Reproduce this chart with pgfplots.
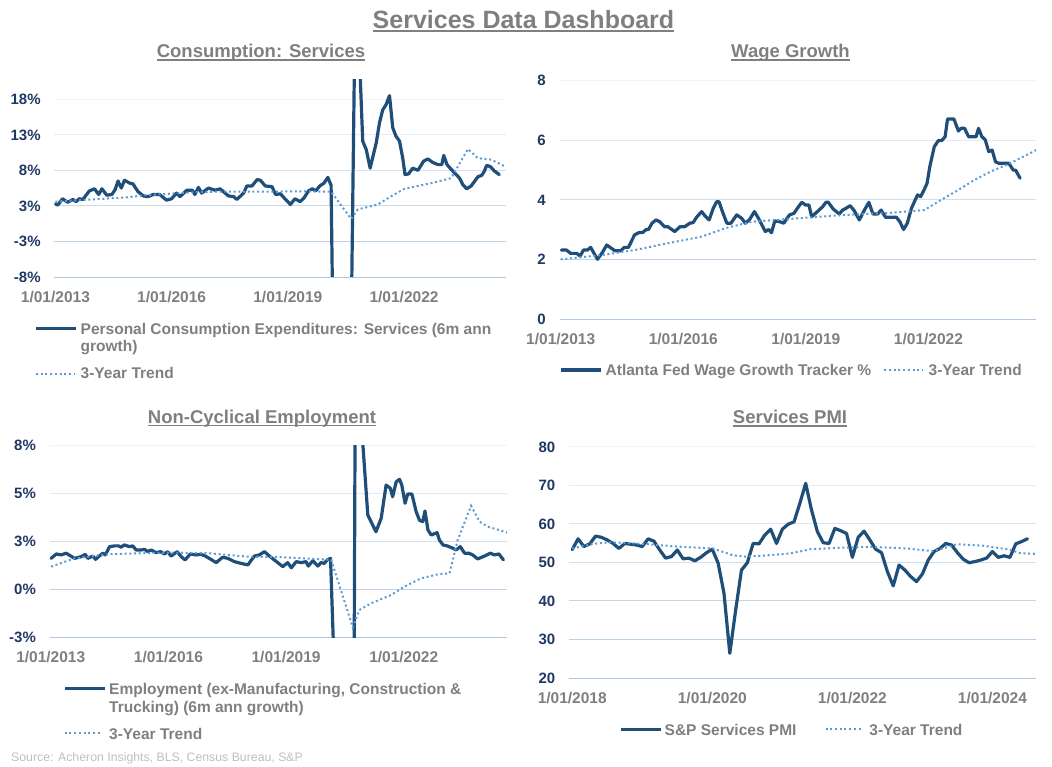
\documentclass[border=0pt]{standalone}
\usepackage{fontspec}
\setmainfont{Liberation Sans}
\usepackage{pgfplots}
\pgfplotsset{compat=1.18}
\definecolor{navy}{RGB}{31,78,121}
\definecolor{tblue}{RGB}{91,155,213}
\definecolor{tgray}{RGB}{127,127,127}
\definecolor{ylab}{RGB}{31,56,100}
\definecolor{gT}{RGB}{240,244,250}
\definecolor{gB}{RGB}{176,199,226}
\definecolor{srcgray}{RGB}{191,191,191}
\newcommand{\gridl}[4]{\draw[line width=0.9pt,color=gB!#4!gT] (axis cs:#1,#3) -- (axis cs:#2,#3);}
\pgfplotsset{
  panel/.style={
    scale only axis, anchor=south west,
    axis line style={draw=none},
    major tick length=0pt,
    clip mode=individual,
    tick label style={inner sep=0pt},
    xticklabel style={font=\fontsize{15.5}{18}\selectfont\bfseries, text=tgray, anchor=base, yshift=-25.5pt},
    yticklabel style={font=\fontsize{15}{18}\selectfont\bfseries, text=ylab, anchor=base east, xshift=-13.5pt, yshift=-5.4pt},
  },
  mainline/.style={line width=3.2pt, color=navy, line join=round, line cap=round, mark=none},
  trendline/.style={line width=2pt, color=tblue, dash pattern=on 2pt off 2.7pt, mark=none},
}
\begin{document}
\begin{tikzpicture}
\path[use as bounding box] (0,0) rectangle (1052pt,766pt);

% ---------------- Panel 1: Consumption Services
\begin{axis}[panel, at={(54.3pt,489pt)}, width=451.9pt, height=197pt,
  xmin=-0.35, xmax=139.65, ymin=-7.5, ymax=20.2,
  xtick={0,36,72,108}, xticklabels={1/01/2013,1/01/2016,1/01/2019,1/01/2022},
  ytick={-7.5,-2.5,2.5,7.5,12.5,17.5}, yticklabels={-8\%,-3\%,3\%,8\%,13\%,18\%}]
\gridl{-0.35}{139.65}{17.5}{0}
\gridl{-0.35}{139.65}{12.5}{20}
\gridl{-0.35}{139.65}{7.5}{40}
\gridl{-0.35}{139.65}{2.5}{60}
\gridl{-0.35}{139.65}{-2.5}{80}
\gridl{-0.35}{139.65}{-7.5}{100}
\addplot[mainline] coordinates {
(0,2.8)(0.7,2.6)(2.2,3.5)(3.8,3.0)(5.4,3.4)(6.4,3.1)(7.4,3.5)(8.5,3.4)(10.5,4.6)(12.1,4.9)
(13.4,4.1)(14.4,4.9)(15.9,4.0)(17.5,4.1)(18.5,4.8)(19.4,6.0)(20.4,5.0)(21.4,6.1)(23,5.7)(24,5.6)
(25.6,4.5)(27.2,3.9)(28.7,3.8)(30.3,4.1)(32.3,4.1)(34.4,3.3)(36,3.5)(37.5,4.3)(38.6,3.8)(40.7,4.7)
(42.4,4.7)(43.2,4.1)(44.3,5.1)(45.3,4.3)(47.4,5.0)(49.5,4.7)(51,4.9)(53.6,3.9)(55.2,3.8)(56.2,3.4)
(58.3,4.3)(59.3,5.3)(60.9,5.3)(62.5,6.2)(63.5,6.1)(65,5.3)(67.1,5.2)(68.2,4.1)(69.7,4.2)(71.3,3.4)
(72.8,2.7)(74.2,3.5)(75.8,3.1)(77,3.6)(78.4,4.6)(79.6,4.9)(80.6,4.6)(81.9,5.3)(83.2,5.7)(84.4,6.5)
(85.4,5.4)(86.4,-30)(87.4,-60)(88.4,-50)(89.4,-35)(90.4,-20)(91.7,-12)(92.7,25)(93.5,35)(94.4,21)
(95.2,11.6)(96.3,10.4)(97.5,7.8)(99.4,11.4)(100.4,14.2)(101.4,16.0)(102.4,16.7)(103.5,18.0)(104.5,13.5)(105.5,12.3)
(106.6,11.6)(107.6,9.2)(108.3,6.9)(109.4,7.0)(110.7,7.8)(112.3,7.5)(114.1,8.8)(115.4,9.1)(116.9,8.6)(118.5,8.3)
(119.7,8.3)(120.3,9.6)(121.3,8.3)(123.1,7.4)(125.2,6.4)(126.2,5.5)(127.4,4.9)(128.8,5.3)(130.9,6.6)(132.1,6.8)
(132.9,7.4)(133.6,8.2)(134.8,8.0)(136.0,7.4)(137.5,6.9)};
\addplot[trendline] coordinates {
(0,3.1)(7,3.3)(15,3.5)(22,3.7)(28,4.0)(35,4.2)(42,4.4)(50,4.5)(58,4.5)(66,4.5)(76,4.55)(85.4,4.5)
(91.6,0.67)(93.7,2.0)(99.9,2.7)(104,3.85)(108.1,4.9)(116.4,5.7)(122.6,6.4)(127.8,10.5)(130.9,9.2)(135,9.0)(139.5,8.0)};
\end{axis}

% ---------------- Panel 2: Wage Growth
\begin{axis}[panel, at={(559.5pt,447pt)}, width=476.7pt, height=238.7pt,
  xmin=-0.35, xmax=139.65, ymin=0, ymax=8,
  xtick={0,36,72,108}, xticklabels={1/01/2013,1/01/2016,1/01/2019,1/01/2022},
  ytick={0,2,4,6,8}, yticklabels={0,2,4,6,8}]
\gridl{-0.35}{139.65}{8}{0}
\gridl{-0.35}{139.65}{6}{25}
\gridl{-0.35}{139.65}{4}{50}
\gridl{-0.35}{139.65}{2}{75}
\gridl{-0.35}{139.65}{0}{100}
\addplot[mainline] coordinates {
(0.2,2.31)(1.7,2.31)(2.9,2.2)(4.7,2.2)(5.7,2.11)(6.7,2.31)(7.8,2.31)(8.8,2.4)(10.8,2.0)(12.3,2.24)
(13.5,2.48)(15.9,2.29)(17.7,2.29)(18.7,2.4)(19.9,2.4)(21.7,2.82)(23.1,2.9)(24.1,2.9)(25.1,3.0)(25.8,3.0)
(26.8,3.21)(28.0,3.32)(29.1,3.26)(30.5,3.09)(31.5,3.09)(33.5,2.93)(35,3.09)(36.4,3.09)(37.9,3.21)(38.9,3.23)
(39.9,3.41)(41.4,3.6)(42.4,3.45)(43.6,3.32)(44.8,3.71)(45.8,3.93)(46.5,3.93)(47.5,3.6)(48.8,3.21)(50,3.21)
(51.7,3.49)(53.2,3.37)(54.2,3.21)(55.4,3.32)(56.9,3.6)(58.1,3.37)(60.1,2.93)(61.1,3.0)(61.9,2.89)(62.9,3.29)
(64.3,3.26)(65.5,3.21)(67.2,3.49)(68.5,3.54)(69.5,3.71)(70.8,3.91)(71.9,3.82)(72.9,3.82)(73.7,3.43)(75.4,3.6)
(76.9,3.76)(77.9,3.91)(78.6,3.91)(80,3.69)(81.8,3.52)(82.8,3.65)(83.8,3.71)(85,3.8)(86.2,3.63)(87.7,3.32)
(89.2,3.65)(90.5,3.91)(91.7,3.52)(93.1,3.52)(94.1,3.65)(95.4,3.41)(96.8,3.41)(98.6,3.41)(99.6,3.26)(100.7,3.0)
(101.8,3.21)(103,3.71)(104.8,4.16)(105.7,4.1)(106.7,4.32)(107.6,4.55)(108.4,5.1)(109.7,5.77)(110.9,5.98)(111.9,5.98)
(112.9,6.11)(113.6,6.7)(115.5,6.7)(116.8,6.3)(117.6,6.39)(118.6,6.39)(119.8,6.11)(121.2,6.11)(122,6.11)(122.7,6.39)
(123.7,6.11)(124.7,6.0)(125.7,5.61)(126.7,5.66)(127.7,5.27)(128.6,5.22)(131.6,5.22)(132.9,4.99)(133.6,4.99)(134.9,4.72)};
\addplot[trendline] coordinates {
(0,2.0)(11.9,2.14)(21.7,2.31)(31.5,2.54)(41.4,2.76)(48.3,3.04)(56,3.26)(65.8,3.34)(75,3.42)(82.4,3.48)
(97.1,3.56)(106.8,3.65)(111.7,3.99)(116.7,4.32)(121.5,4.66)(126.4,4.95)(131.3,5.18)(136.2,5.46)(139.65,5.66)};
\end{axis}

% ---------------- Panel 3: Non-Cyclical Employment
\begin{axis}[panel, at={(49.6pt,128.7pt)}, width=457.6pt, height=192pt,
  xmin=-0.35, xmax=139.65, ymin=-2.5, ymax=7.5,
  xtick={0,36,72,108}, xticklabels={1/01/2013,1/01/2016,1/01/2019,1/01/2022},
  ytick={-2.5,0,2.5,5,7.5}, yticklabels={-3\%,0\%,3\%,5\%,8\%}]
\gridl{-0.35}{139.65}{7.5}{0}
\gridl{-0.35}{139.65}{5}{25}
\gridl{-0.35}{139.65}{2.5}{50}
\gridl{-0.35}{139.65}{0}{75}
\gridl{-0.35}{139.65}{-2.5}{100}
\addplot[mainline] coordinates {
(0.1,1.61)(1.7,1.84)(3.2,1.79)(4.7,1.88)(7.3,1.61)(9.3,1.7)(10.6,1.82)(11.3,1.61)(12.9,1.73)(13.7,1.56)
(15.9,1.88)(16.7,1.79)(18,2.22)(19.5,2.26)(20.8,2.26)(21.5,2.19)(22.5,2.31)(24.1,2.22)(25.1,2.26)(26.1,2.05)
(27.7,2.05)(28.7,2.08)(29.7,1.96)(30.7,2.05)(32.2,1.91)(33.6,1.96)(34.8,1.84)(35.8,1.96)(36.8,1.73)(38.7,1.96)
(39.9,1.7)(41.1,1.53)(42.7,1.84)(44.5,1.79)(46,1.82)(47.3,1.73)(48.5,1.61)(50.6,1.39)(52.6,1.67)(54.2,1.61)
(56.2,1.44)(58.2,1.35)(60.3,1.27)(62.3,1.73)(63.8,1.79)(65.4,1.96)(66.9,1.73)(68.4,1.53)(71,1.18)(72.5,1.39)
(73.6,1.12)(75.1,1.44)(76.6,1.39)(78.1,1.44)(78.8,1.21)(80.2,1.49)(81.7,1.21)(82.7,1.39)(83.7,1.35)(84.6,1.53)
(85.6,1.61)(86.6,-3.5)(87.6,-40)(88.6,-30)(89.6,-20)(90.6,-15)(91.6,-10)(92.8,-5)(93.6,30)(94.4,10.2)
(97.0,3.87)(98.0,3.52)(99.5,3.0)(101.1,3.7)(102.6,5.43)(103.9,5.26)(104.6,4.82)(105.7,5.6)(106.7,5.73)(107.4,5.43)
(108.4,4.48)(109.2,4.96)(110.5,4.96)(111.8,4.04)(112.8,3.6)(113.8,3.52)(114.5,4.08)(115.4,3.09)(116.4,2.83)(118.2,2.95)
(118.9,2.57)(120,2.31)(121.3,2.26)(123,2.14)(124,2.05)(125.3,2.22)(126.6,1.88)(127.9,1.88)(129.1,1.79)(130.6,1.58)
(132.7,1.73)(134.5,1.88)(135.7,1.79)(137.1,1.84)(138.5,1.53)};
\addplot[trendline] coordinates {
(0.1,1.18)(7.3,1.61)(17.5,1.82)(27.7,1.88)(37.9,1.91)(48.1,1.88)(60.3,1.7)(70.5,1.67)(85.8,1.53)
(92.4,-1.98)(94.4,-1.08)(98,-0.73)(104.1,-0.3)(108.2,0.14)(113.3,0.57)(118.4,0.78)(122,0.83)(124.5,2.57)
(128.6,4.35)(131.2,3.52)(133.7,3.26)(138.8,3.0)(139.65,2.95)};
\end{axis}

% ---------------- Panel 4: Services PMI
\begin{axis}[panel, at={(568.9pt,88pt)}, width=467.3pt, height=231.3pt,
  xmin=-0.57, xmax=79.5, ymin=20, ymax=80,
  xtick={0,24,48,72}, xticklabels={1/01/2018,1/01/2020,1/01/2022,1/01/2024},
  ytick={20,30,40,50,60,70,80}, yticklabels={20,30,40,50,60,70,80}]
\gridl{-0.57}{79.5}{80}{0}
\gridl{-0.57}{79.5}{70}{17}
\gridl{-0.57}{79.5}{60}{33}
\gridl{-0.57}{79.5}{50}{50}
\gridl{-0.57}{79.5}{40}{67}
\gridl{-0.57}{79.5}{30}{83}
\gridl{-0.57}{79.5}{20}{100}
\addplot[mainline] coordinates {
(0,53.3)(1,56.1)(2,54.1)(3,54.8)(4,56.8)(5,56.5)(6,55.8)(7,54.9)(8,53.6)(9,54.9)(10,54.7)(11,54.5)
(12,54.1)(13,56.1)(14,55.5)(15,53.2)(16,51.1)(17,51.5)(18,53.2)(19,50.9)(20,51.1)(21,50.4)(22,51.3)(23,52.5)
(24,53.4)(25,49.8)(26,42.0)(27,26.4)(28,37.6)(29,48.0)(30,49.9)(31,54.9)(32,54.8)(33,57.1)(34,58.6)(35,54.9)
(36,58.6)(37,59.9)(38,60.5)(39,65.3)(40,70.5)(41,63.6)(42,58.0)(43,55.1)(44,54.9)(45,58.8)(46,58.2)(47,57.5)
(48,51.3)(49,56.5)(50,58.1)(51,55.8)(52,53.4)(53,52.5)(54,47.6)(55,43.9)(56,49.3)(57,48.0)(58,46.3)(59,45.0)
(60,47.0)(61,50.6)(62,52.8)(63,53.6)(64,54.9)(65,54.5)(66,52.5)(67,50.8)(68,49.9)(69,50.2)(70,50.6)(71,51.1)
(72,52.8)(73,51.3)(74,51.7)(75,51.3)(76,54.8)(77,55.4)(78,56.1)};
\addplot[trendline] coordinates {
(0,53.6)(3.6,54.8)(6.5,55.2)(12.2,54.8)(17.9,54.1)(24.1,53.6)(27.6,51.8)(29.6,51.5)(33.3,51.8)(37.3,52.3)
(40.8,53.4)(45.9,53.8)(51.6,54.0)(57.3,53.6)(61.9,52.9)(65.9,54.7)(70.5,54.3)(75,53.3)(76.7,52.4)(79.5,52.2)};
\end{axis}

% ---------------- Titles
\node[anchor=base, inner sep=0pt, font=\fontsize{25}{30}\selectfont\bfseries, text=tgray] (T) at (523.5pt,737.7pt) {Services Data Dashboard};
\draw[tgray, line width=1.7pt] ([yshift=-2.4pt]T.base west) -- ([yshift=-2.4pt]T.base east);
\node[anchor=base, inner sep=0pt, font=\fontsize{18.5}{22}\selectfont\bfseries, text=tgray] (T1) at (261pt,708pt) {Consumption: Services};
\draw[tgray, line width=1.3pt] ([yshift=-2pt]T1.base west) -- ([yshift=-2pt]T1.base east);
\node[anchor=base, inner sep=0pt, font=\fontsize{18.5}{22}\selectfont\bfseries, text=tgray] (T2) at (790.5pt,708pt) {Wage Growth};
\draw[tgray, line width=1.3pt] ([yshift=-2pt]T2.base west) -- ([yshift=-2pt]T2.base east);
\node[anchor=base, inner sep=0pt, font=\fontsize{18.5}{22}\selectfont\bfseries, text=tgray] (T3) at (262pt,342.7pt) {Non-Cyclical Employment};
\draw[tgray, line width=1.3pt] ([yshift=-2pt]T3.base west) -- ([yshift=-2pt]T3.base east);
\node[anchor=base, inner sep=0pt, font=\fontsize{18.5}{22}\selectfont\bfseries, text=tgray] (T4) at (790pt,342pt) {Services PMI};
\draw[tgray, line width=1.3pt] ([yshift=-2pt]T4.base west) -- ([yshift=-2pt]T4.base east);

% ---------------- Legends
\tikzset{legtxt/.style={anchor=base west, inner sep=0pt, font=\fontsize{15.5}{18}\selectfont\bfseries, text=tgray}}
% panel 1
\draw[navy, line width=3.2pt] (35.9pt,437.7pt) -- (75.5pt,437.7pt);
\node[legtxt] at (80.5pt,431.7pt) {Personal Consumption Expenditures: Services (6m ann};
\node[legtxt] at (80.5pt,414pt) {growth)};
\draw[tblue, line width=2pt, dash pattern=on 2pt off 2.7pt] (36pt,392pt) -- (74.5pt,392pt);
\node[legtxt] at (80.5pt,387pt) {3-Year Trend};
% panel 2
\draw[navy, line width=3.2pt] (560.5pt,396pt) -- (600.5pt,396pt);
\node[legtxt] at (605.5pt,390pt) {Atlanta Fed Wage Growth Tracker \%};
\draw[tblue, line width=2pt, dash pattern=on 2pt off 2.7pt] (884.3pt,396pt) -- (922.8pt,396pt);
\node[legtxt] at (928.5pt,390pt) {3-Year Trend};
% panel 3
\draw[navy, line width=3.2pt] (64.7pt,77.7pt) -- (105pt,77.7pt);
\node[legtxt] at (109pt,71.7pt) {Employment (ex-Manufacturing, Construction \&};
\node[legtxt] at (109pt,53.7pt) {Trucking) (6m ann growth)};
\draw[tblue, line width=2pt, dash pattern=on 2pt off 2.7pt] (64.7pt,32.7pt) -- (102pt,32.7pt);
\node[legtxt] at (109pt,27pt) {3-Year Trend};
% panel 4
\draw[navy, line width=3.2pt] (621pt,36.7pt) -- (661.2pt,36.7pt);
\node[legtxt] at (664.5pt,31pt) {S\&P Services PMI};
\draw[tblue, line width=2pt, dash pattern=on 2pt off 2.7pt] (825.6pt,36.7pt) -- (863.1pt,36.7pt);
\node[legtxt] at (869.2pt,31pt) {3-Year Trend};

% ---------------- Source
\node[anchor=base west, inner sep=0pt, font=\fontsize{12.3}{14}\selectfont, text=srcgray] at (11pt,5pt) {Source: Acheron Insights, BLS, Census Bureau, S\&P};
\end{tikzpicture}
\end{document}
